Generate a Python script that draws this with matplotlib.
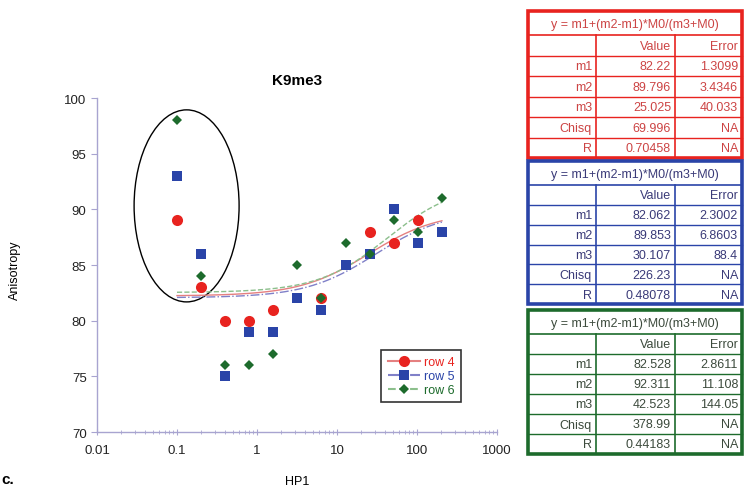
import numpy as np
import matplotlib
matplotlib.use("Agg")
import matplotlib.pyplot as plt
from matplotlib.lines import Line2D
from matplotlib.patches import Ellipse, Rectangle

plt.rcParams["font.family"] = ["Liberation Sans", "DejaVu Sans"]

# measured data (HP1 concentration vs anisotropy)
hp1 = [0.1, 0.2, 0.4, 0.8, 1.6, 3.2, 6.4, 12.8, 25.6, 51.2, 102.4, 204.8]
row4 = [89, 83, 80, 80, 81, np.nan, 82, np.nan, 88, 87, 89, np.nan]
row5 = [93, 86, 75, 79, 79, 82, 81, 85, 86, 90, 87, 88]
row6 = [98, 84, 76, 76, 77, 85, 82, 87, 86, 89, 88, 91]

series_names = ["row 4", "row 5", "row 6"]

# fit results y = m1+(m2-m1)*M0/(m3+M0)
param_names = ["m1", "m2", "m3", "Chisq", "R"]
fit_values = [
    ["82.22", "89.796", "25.025", "69.996", "0.70458"],
    ["82.062", "89.853", "30.107", "226.23", "0.48078"],
    ["82.528", "92.311", "42.523", "378.99", "0.44183"],
]
fit_errors = [
    ["1.3099", "3.4346", "40.033", "NA", "NA"],
    ["2.3002", "6.8603", "88.4", "NA", "NA"],
    ["2.8611", "11.108", "144.05", "NA", "NA"],
]

colors = ["#e8231f", "#2a44a8", "#1d6b2c"]
fit_colors = ["#e58080", "#8080c8", "#8cbf8c"]
fit_styles = ["-", "-.", "--"]
text_colors = ["#cc4444", "#3a3a78", "#3c4a3c"]
markers = ["o", "s", "D"]
msizes = [8, 7.5, 5]

fig = plt.figure(figsize=(7.46, 4.89), dpi=100)
W, H = 746, 489
ax = fig.add_axes([97 / W, 1 - 433 / H, 400 / W, 334 / H])

xfit = np.geomspace(0.1, 204.8, 200)
for i, ys in enumerate([row4, row5, row6]):
    m1, m2, m3 = (float(v) for v in fit_values[i][:3])
    ax.plot(xfit, m1 + (m2 - m1) * xfit / (m3 + xfit), color=fit_colors[i],
            linestyle=fit_styles[i], linewidth=1.0, zorder=2)
for i, ys in enumerate([row4, row5, row6]):
    ax.plot(hp1, ys, linestyle="none", marker=markers[i], markersize=msizes[i],
            color=colors[i], markeredgewidth=0, zorder=3 + i)

ax.set_xscale("log")
ax.set_xlim(0.01, 1000)
ax.set_ylim(70, 100)
ax.set_yticks([70, 75, 80, 85, 90, 95, 100])
ax.set_xticks([0.01, 0.1, 1, 10, 100, 1000])
ax.set_xticklabels(["0.01", "0.1", "1", "10", "100", "1000"])
spine_c = "#a8a4d0"
for s in ["top", "right"]:
    ax.spines[s].set_visible(False)
for s in ["left", "bottom"]:
    ax.spines[s].set_color(spine_c)
    ax.spines[s].set_linewidth(1.0)
ax.tick_params(axis="y", colors=spine_c, labelcolor="#222222", labelsize=9.5, length=4)
ax.tick_params(axis="x", which="major", direction="inout", colors=spine_c,
               labelcolor="#222222", labelsize=9.5, length=5, pad=6)
ax.tick_params(axis="x", which="minor", direction="inout", colors=spine_c, length=3)

ax.set_title("K9me3", fontsize=11, fontweight="bold", pad=10)
ax.set_xlabel("HP1", fontsize=9, labelpad=14)
fig.text(15 / W, 1 - 270 / H, "Anisotropy", rotation=90, fontsize=9,
         ha="center", va="center")

ax.add_patch(Ellipse((0.224, 0.677), 0.2625, 0.575, transform=ax.transAxes,
                     fill=False, edgecolor="black", linewidth=1.0, clip_on=False))

handles = [Line2D([], [], color=fit_colors[i], linestyle=fit_styles[i], marker=markers[i],
                  markersize=msizes[i], markerfacecolor=colors[i], markeredgewidth=0)
           for i in range(3)]
leg = ax.legend(handles, series_names, loc="lower left", bbox_to_anchor=(0.695, 0.07),
                fontsize=9, frameon=True, fancybox=False, handlelength=2.6,
                borderpad=0.5, labelspacing=0.15, handletextpad=0.3)
leg.get_frame().set_edgecolor("black")
leg.get_frame().set_linewidth(1.2)
for t, c in zip(leg.get_texts(), colors):
    t.set_color(c)

fig.text(1 / W, 2 / H, "c.", fontsize=11, fontweight="bold", ha="left", va="bottom")

# fit tables drawn in pixel coordinates
tx = fig.add_axes([0, 0, 1, 1])
tx.set_xlim(0, W)
tx.set_ylim(H, 0)
tx.axis("off")

box_tops = [12, 162, 311]
box_bottoms = [159, 305, 455]
left, right = 528, 742
col1, col2 = 596, 675
header_h = 24
for k in range(3):
    top, bot = box_tops[k], box_bottoms[k]
    c = colors[k]
    rh = (bot - top - header_h) / 6
    tx.add_patch(Rectangle((left, top), right - left, bot - top, fill=False,
                           edgecolor=c, linewidth=2.6, zorder=5))
    tx.plot([left, right], [top + header_h] * 2, color=c, linewidth=1.2)
    for r in range(1, 6):
        yy = top + header_h + r * rh
        tx.plot([left, right], [yy] * 2, color=c, linewidth=1.0)
    tx.plot([col1, col1], [top + header_h, bot], color=c, linewidth=1.2)
    tx.plot([col2, col2], [top + header_h, bot], color=c, linewidth=1.2)
    tc = text_colors[k]
    tx.text((left + right) / 2, top + header_h / 2 + 1, "y = m1+(m2-m1)*M0/(m3+M0)",
            ha="center", va="center", fontsize=9, color=tc)
    y0 = top + header_h + rh / 2 + 0.5
    tx.text(col2 - 4, y0, "Value", ha="right", va="center", fontsize=9, color=tc)
    tx.text(right - 4, y0, "Error", ha="right", va="center", fontsize=9, color=tc)
    for r in range(5):
        yy = top + header_h + rh * (r + 1) + rh / 2 + 0.5
        tx.text(col1 - 4, yy, param_names[r], ha="right", va="center", fontsize=9, color=tc)
        tx.text(col2 - 4, yy, fit_values[k][r], ha="right", va="center", fontsize=9, color=tc)
        tx.text(right - 4, yy, fit_errors[k][r], ha="right", va="center", fontsize=9, color=tc)

fig.savefig("out.png", dpi=100)
